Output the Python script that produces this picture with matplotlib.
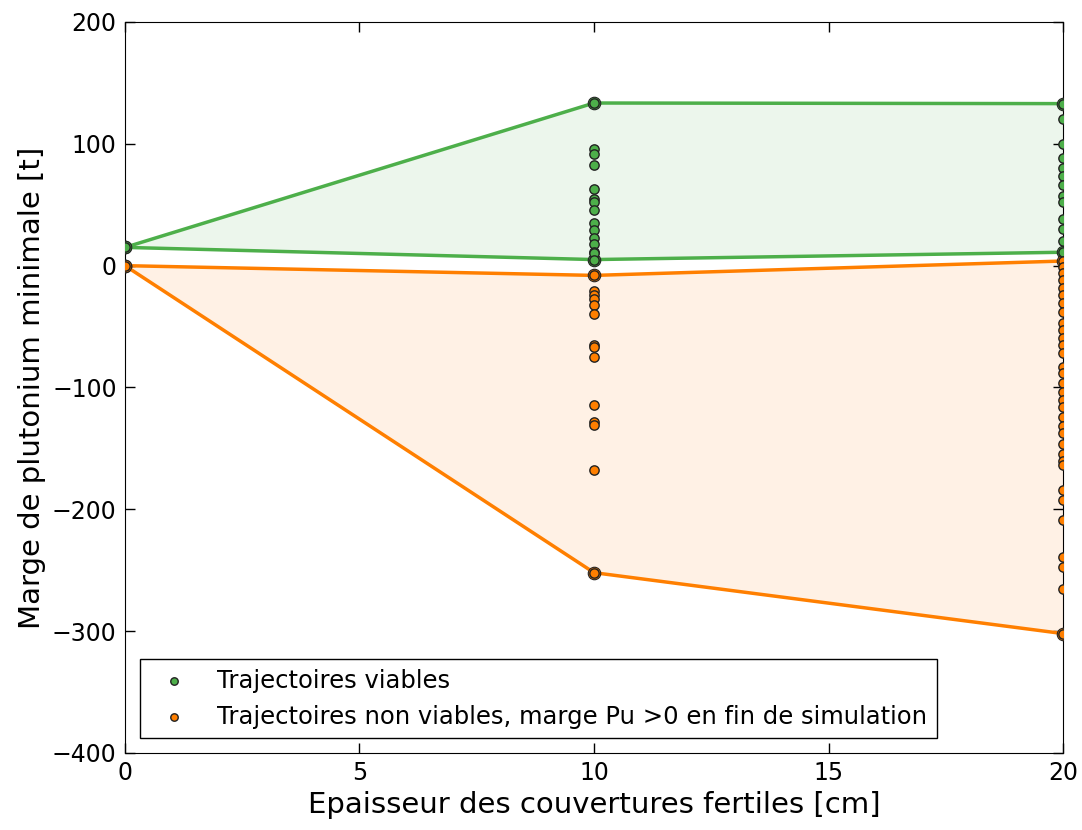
import matplotlib
matplotlib.use("Agg")
import matplotlib.pyplot as plt

# épaisseurs testées [cm]
epaisseurs = [0, 10, 20]

# marges Pu minimales des trajectoires viables, par épaisseur
viables = {
    0: [15],
    10: [133.5, 96, 92, 83, 63, 55, 52, 46, 35, 29, 23, 18, 11, 10, 5],
    20: [133, 120, 100, 88, 80, 74, 66, 57, 52, 38, 30, 20, 11],
}

# marges Pu minimales des trajectoires non viables (marge > 0 en fin de simulation)
non_viables = {
    0: [0],
    10: [-8, -21, -24, -27, -32, -40, -65, -67, -75, -114, -128, -131, -168, -252],
    20: [3.8, -1, -6, -12, -18, -24, -31, -38, -47, -53, -59, -65, -72, -83, -88,
         -96, -104, -110, -116, -124, -132, -137, -146, -155, -160, -164, -184,
         -192, -209, -239, -247, -265, -302],
}

vert = "#4daf4a"
orange = "#ff7f00"

plt.rcParams["font.family"] = "DejaVu Sans"
plt.rcParams["xtick.direction"] = "in"
plt.rcParams["ytick.direction"] = "in"
plt.rcParams["xtick.top"] = True
plt.rcParams["ytick.right"] = True

fig = plt.figure(figsize=(10.82, 8.30), dpi=100)
ax = fig.add_axes([0.1155, 0.0928, 0.867, 0.8807])


def trace(donnees, couleur, label):
    xs, ys = [], []
    for e in epaisseurs:
        xs += [e] * len(donnees[e])
        ys += donnees[e]
    haut = [max(donnees[e]) for e in epaisseurs]
    bas = [min(donnees[e]) for e in epaisseurs]
    ax.fill_between(epaisseurs, bas, haut, color=couleur, alpha=0.1, lw=0)
    ax.plot(epaisseurs, haut, "-o", color=couleur, lw=2.5, ms=9,
            mec="#222222", mew=0.8, zorder=3)
    ax.plot(epaisseurs, bas, "-o", color=couleur, lw=2.5, ms=9,
            mec="#222222", mew=0.8, zorder=3)
    ax.scatter(xs, ys, s=45, c=couleur, edgecolors="#222222", linewidths=1,
               zorder=4, label=label)


trace(viables, vert, "Trajectoires viables")
trace(non_viables, orange,
      "Trajectoires non viables, marge Pu >0 en fin de simulation")

ax.set_xlim(0, 20)
ax.set_ylim(-400, 200)
ax.set_xticks([0, 5, 10, 15, 20])
ax.set_yticks([-400, -300, -200, -100, 0, 100, 200])
ax.tick_params(labelsize=17, length=7, width=1, pad=6)
ax.set_xlabel("Epaisseur des couvertures fertiles [cm]", fontsize=21)
ax.set_ylabel("Marge de plutonium minimale [t]", fontsize=21)

leg = ax.legend(loc="lower left", fontsize=17.5, scatterpoints=1, fancybox=False,
                framealpha=1, edgecolor="black", borderpad=0.4,
                markerscale=0.8, handletextpad=0.8, borderaxespad=0.6)
leg.get_frame().set_linewidth(1)

fig.savefig("out.png", dpi=100, facecolor="white")
